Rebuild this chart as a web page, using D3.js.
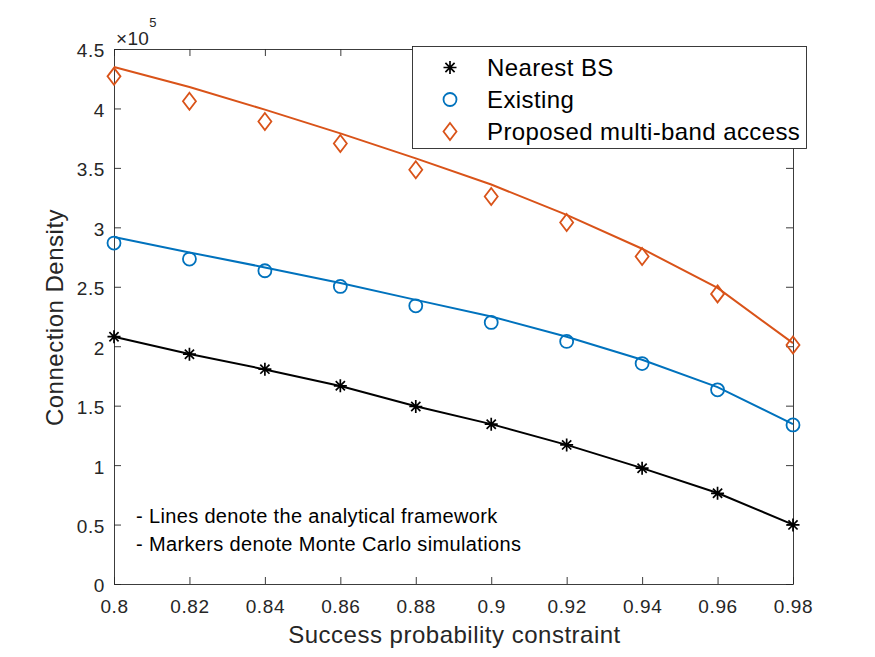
<!DOCTYPE html>
<html>
<head>
<meta charset="utf-8">
<script src="https://cdn.jsdelivr.net/npm/d3@7"></script>
<style>
  body { margin: 0; background: #fff; }
  svg { display: block; font-family: "Liberation Sans", Arial, Helvetica, sans-serif; }
</style>
</head>
<body>
<svg id="chart" width="875" height="657"></svg>
<script>
// ---- data ----
const xValues = [0.80, 0.82, 0.84, 0.86, 0.88, 0.90, 0.92, 0.94, 0.96, 0.98];
const xTickLabels = ["0.8", "0.82", "0.84", "0.86", "0.88", "0.9", "0.92", "0.94", "0.96", "0.98"];
const yTicks = [0, 50000, 100000, 150000, 200000, 250000, 300000, 350000, 400000, 450000];
const yTickLabels = ["0", "0.5", "1", "1.5", "2", "2.5", "3", "3.5", "4", "4.5"];

const seriesNames = ["Nearest BS", "Existing", "Proposed multi-band access"];
// analytical (lines)
const nearestLine  = [208000, 193500, 180500, 166500, 149500, 134500, 117000, 97500, 76500, 50000];
const existingLine = [291800, 278900, 266300, 253100, 239000, 225000, 208000, 188600, 165600, 134500];
const proposedLine = [434900, 418000, 399000, 379000, 358000, 336000, 310500, 282000, 249000, 202600];
// Monte Carlo (markers)
const nearestSim  = [208000, 193300, 180700, 166700, 149300, 134400, 117000, 97400, 76300, 49700];
const existingSim = [286800, 273300, 263500, 250300, 234000, 220000, 204000, 185400, 163300, 133800];
const proposedSim = [427000, 406000, 389000, 370500, 348500, 326000, 304000, 275500, 244000, 201000];

const colors = ["#000000", "#0072BD", "#D95319"];
const annotation = ["- Lines denote the analytical framework", "- Markers denote Monte Carlo simulations"];

// ---- layout ----
const L = 114, R = 793, T = 49, B = 584;
const svg = d3.select("#chart");
const x = d3.scaleLinear().domain([0.8, 0.98]).range([L, R]);
const y = d3.scaleLinear().domain([0, 450000]).range([B, T]);
const axisColor = "#262626";

function styleAxis(g) {
  g.selectAll("path.domain").attr("stroke", axisColor).attr("stroke-width", 0.9);
  g.selectAll(".tick line").attr("stroke", axisColor).attr("stroke-width", 0.9);
  g.selectAll(".tick text").attr("fill", axisColor).attr("font-size", 19)
    .attr("letter-spacing", 0.6)
    .attr("font-family", '"Liberation Sans", Arial, sans-serif');
}
const gx = svg.append("g").attr("transform", `translate(0,${B})`)
  .call(d3.axisBottom(x).tickValues(xValues).tickFormat((d, i) => xTickLabels[i])
    .tickSizeInner(-7).tickSizeOuter(0).tickPadding(16));
styleAxis(gx);
const gxt = svg.append("g").attr("transform", `translate(0,${T})`)
  .call(d3.axisTop(x).tickValues(xValues).tickFormat("").tickSizeInner(-7).tickSizeOuter(0));
styleAxis(gxt);
const gy = svg.append("g").attr("transform", `translate(${L},0)`)
  .call(d3.axisLeft(y).tickValues(yTicks).tickFormat((d, i) => yTickLabels[i])
    .tickSizeInner(-7).tickSizeOuter(0).tickPadding(9));
styleAxis(gy);
gy.selectAll(".tick text").attr("dy", "0.42em");
const gyr = svg.append("g").attr("transform", `translate(${R},0)`)
  .call(d3.axisRight(y).tickValues(yTicks).tickFormat("").tickSizeInner(-7).tickSizeOuter(0));
styleAxis(gyr);

// exponent label
const ex = svg.append("text").attr("x", 116).attr("y", 45).attr("fill", axisColor)
  .attr("font-size", 19).attr("letter-spacing", 0.3);
ex.append("tspan").text("\u00d710");
ex.append("tspan").attr("dy", -18).attr("font-size", 13).text("5");

// axis labels
svg.append("text").attr("x", (L + R) / 2 + 1).attr("y", 643).attr("text-anchor", "middle")
  .attr("fill", axisColor).attr("font-size", 24).attr("letter-spacing", 0.5)
  .text("Success probability constraint");
svg.append("text").attr("transform", `translate(63,${(T + B) / 2 + 1}) rotate(-90)`)
  .attr("text-anchor", "middle").attr("fill", axisColor).attr("font-size", 24)
  .attr("letter-spacing", 0.5).text("Connection Density");

// markers
function starPath(s) {
  const d = s * 0.7071;
  return `M${-s},0L${s},0M0,${-s}L0,${s}M${-d},${-d}L${d},${d}M${-d},${d}L${d},${-d}`;
}
function drawMarker(g, type, color) {
  if (type === 0) {
    g.append("path").attr("d", starPath(6.5)).attr("stroke", color).attr("stroke-width", 1.7).attr("fill", "none");
  } else if (type === 1) {
    g.append("circle").attr("r", 6.5).attr("stroke", color).attr("stroke-width", 1.8).attr("fill", "none");
  } else {
    g.append("path").attr("d", "M0,-8.5L6.5,0L0,8.5L-6.5,0Z").attr("stroke", color).attr("stroke-width", 1.8).attr("fill", "none");
  }
}

const lineData = [nearestLine, existingLine, proposedLine];
const simData = [nearestSim, existingSim, proposedSim];
const line = d3.line().x((d, i) => x(xValues[i])).y(d => y(d));
lineData.forEach((vals, k) => {
  svg.append("path").datum(vals).attr("d", line).attr("fill", "none")
    .attr("stroke", colors[k]).attr("stroke-width", 2);
});
simData.forEach((vals, k) => {
  vals.forEach((v, i) => {
    const g = svg.append("g").attr("transform", `translate(${x(xValues[i])},${y(v)})`);
    drawMarker(g, k, colors[k]);
  });
});

// annotation
annotation.forEach((t, i) => {
  svg.append("text").attr("x", 136).attr("y", 523 + i * 27.5).attr("fill", "#000")
    .attr("font-size", 20).attr("letter-spacing", 0.35).text(t);
});

// legend
const lg = svg.append("g");
lg.append("rect").attr("x", 412.5).attr("y", 46.5).attr("width", 394).attr("height", 102)
  .attr("fill", "#fff").attr("stroke", axisColor).attr("stroke-width", 0.9);
seriesNames.forEach((n, k) => {
  const cy = 67.5 + k * 32;
  const g = lg.append("g").attr("transform", `translate(450,${cy})`);
  drawMarker(g, k, colors[k]);
  lg.append("text").attr("x", 487).attr("y", cy + 8).attr("fill", "#000")
    .attr("font-size", 24).attr("letter-spacing", 0.4).text(n);
});
</script>
</body>
</html>
